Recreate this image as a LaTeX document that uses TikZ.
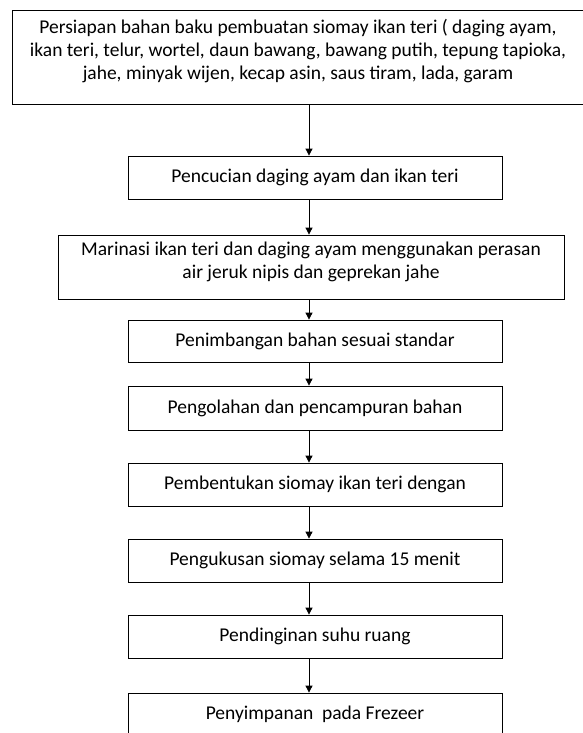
\documentclass[tikz,border=0pt]{standalone}
\usepackage{fontspec}
\setmainfont{Carlito}
\usetikzlibrary{arrows.meta,positioning}

\tikzset{
    kotak/.style={draw, line width=0.8pt, inner sep=0pt, minimum height=43pt,
        font=\fontsize{19.5}{23}\selectfont},
    tulisan/.style={align=center, inner sep=0pt, font=\fontsize{19.5}{23}\selectfont},
    panah/.style={-{Triangle[length=7pt,width=7pt]}, line width=0.8pt}
}

\begin{document}
\begin{tikzpicture}[x=1pt,y=-1pt]
    \useasboundingbox (0,0) rectangle (582,733);
    \coordinate (sumbu) at (309,0);
    % kotak-kotak proses
    \node[kotak, minimum width=572pt, minimum height=94pt] (persiapan) at (298,57) {};
    \node[tulisan] at ([yshift=6pt]persiapan.center) {Persiapan bahan baku pembuatan siomay ikan teri ( daging ayam,\\
        ikan teri, telur, wortel, daun bawang, bawang putih, tepung tapioka,\\
        jahe, minyak wijen, kecap asin, saus tiram, lada, garam};
    \node[kotak, minimum width=374pt] (pencucian) at (315,177.5) {Pencucian daging ayam dan ikan teri};
    \node[kotak, minimum width=506pt, minimum height=64pt] (marinasi) at (311,267) {};
    \node[tulisan] at ([yshift=5pt]marinasi.center) {Marinasi ikan teri dan daging ayam menggunakan perasan\\
        air jeruk nipis dan geprekan jahe};
    \node[kotak, minimum width=374pt, minimum height=42pt] (penimbangan) at (315,341) {Penimbangan bahan sesuai standar};
    \node[kotak, minimum width=374pt, minimum height=44pt] (pengolahan) at (315,408) {Pengolahan dan pencampuran bahan};
    \node[kotak, minimum width=374pt] (pembentukan) at (315,484.5) {Pembentukan siomay ikan teri dengan};
    \node[kotak, minimum width=374pt] (pengukusan) at (315,560.5) {Pengukusan siomay selama 15 menit};
    \node[kotak, minimum width=374pt] (pendinginan) at (315,636.5) {Pendinginan suhu ruang};
    \node[kotak, minimum width=374pt, minimum height=42pt] (penyimpanan) at (315,714) {Penyimpanan\ \ pada Frezeer};
    % panah antar kotak
    \draw[panah] (persiapan.south -| sumbu) -- (pencucian.north -| sumbu);
    \draw[panah] (pencucian.south -| sumbu) -- (marinasi.north -| sumbu);
    \draw[panah] (marinasi.south -| sumbu) -- (penimbangan.north -| sumbu);
    \draw[panah] (penimbangan.south -| sumbu) -- (pengolahan.north -| sumbu);
    \draw[panah] (pengolahan.south -| sumbu) -- (pembentukan.north -| sumbu);
    \draw[panah] (pembentukan.south -| sumbu) -- (pengukusan.north -| sumbu);
    \draw[panah] (pengukusan.south -| sumbu) -- (pendinginan.north -| sumbu);
    \draw[panah] (pendinginan.south -| sumbu) -- (penyimpanan.north -| sumbu);
\end{tikzpicture}
\end{document}
